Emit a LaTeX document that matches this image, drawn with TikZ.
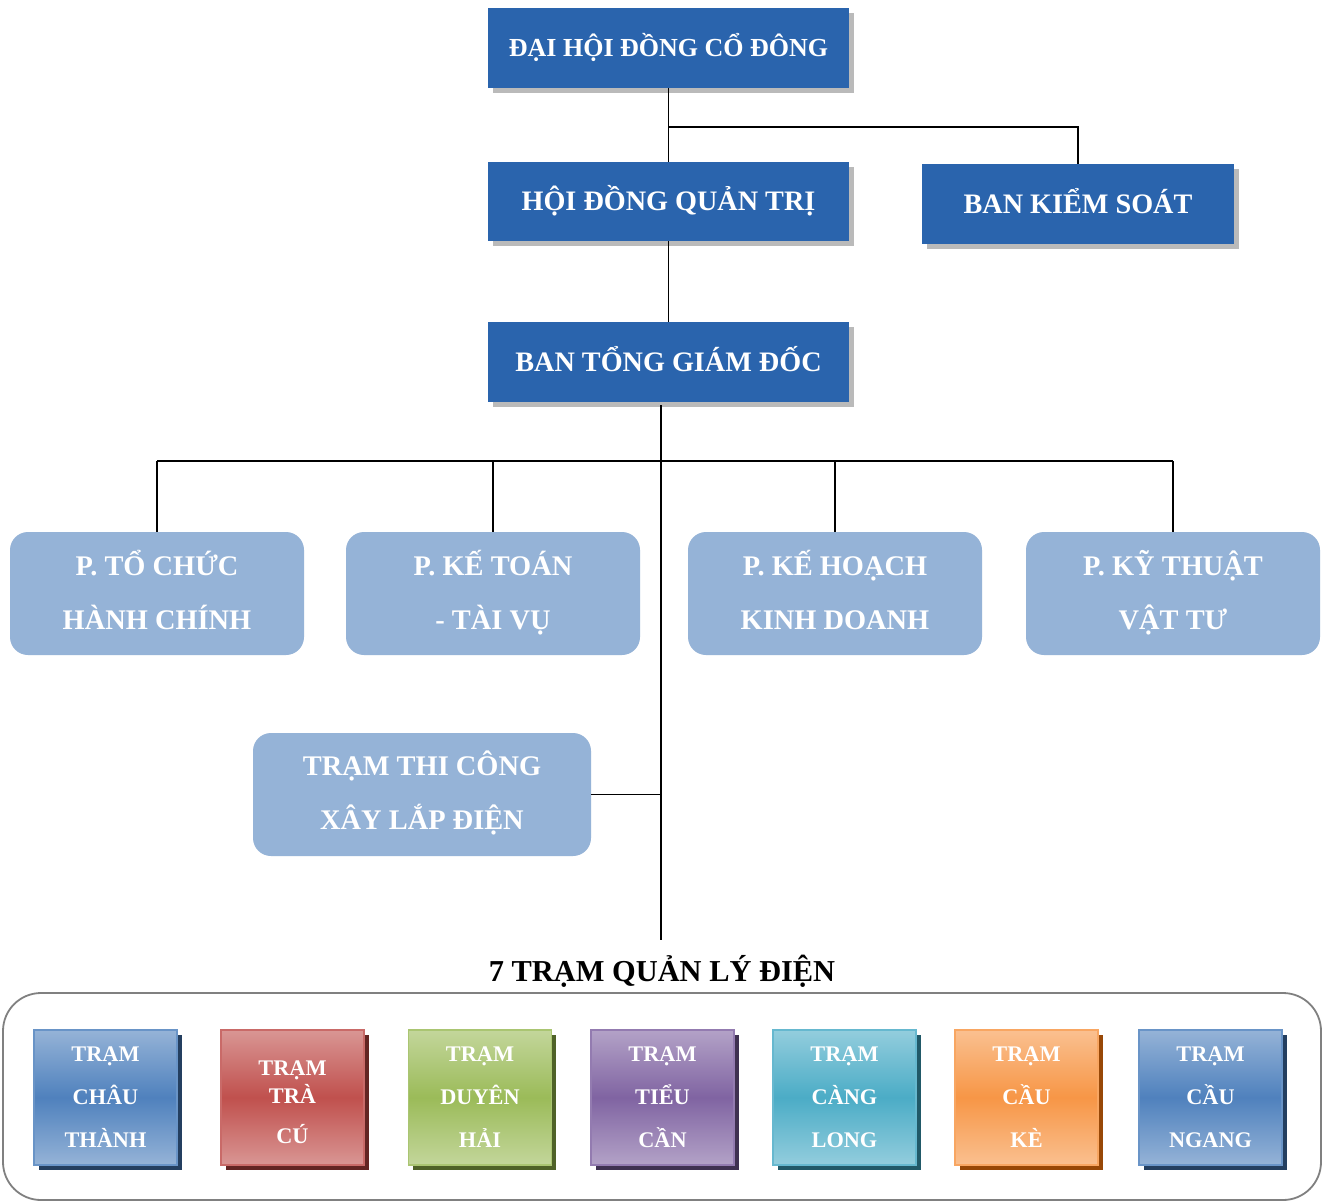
\documentclass[tikz,border=0pt]{standalone}
\usepackage{fontspec}
\setmainfont{Liberation Serif}
\usetikzlibrary{shadows}
\definecolor{hdblue}{HTML}{2A64AD}
\definecolor{deptblue}{HTML}{95B3D7}
\definecolor{bluemid}{HTML}{4F81BD}\definecolor{bluelight}{HTML}{95B3D7}\definecolor{blueshad}{HTML}{243F60}
\definecolor{redmid}{HTML}{C0504D}\definecolor{redlight}{HTML}{D99694}\definecolor{redshad}{HTML}{632523}
\definecolor{greenmid}{HTML}{9BBB59}\definecolor{greenlight}{HTML}{C3D69B}\definecolor{greenshad}{HTML}{4F6228}
\definecolor{purplemid}{HTML}{8064A2}\definecolor{purplelight}{HTML}{B3A2C7}\definecolor{purpleshad}{HTML}{3F3151}
\definecolor{tealmid}{HTML}{4BACC6}\definecolor{teallight}{HTML}{93CDDD}\definecolor{tealshad}{HTML}{215968}
\definecolor{orangemid}{HTML}{F79646}\definecolor{orangelight}{HTML}{FAC090}\definecolor{orangeshad}{HTML}{984807}
\begin{document}
\begin{tikzpicture}[x=1pt,y=-1pt,
  conn/.style={draw=black, line width=1.8pt},
  topbox/.style={fill=hdblue, text=white, inner sep=0pt, minimum height=80pt,
    font=\bfseries\fontsize{28.2}{30}\selectfont,
    execute at end node={\rule[-7pt]{0pt}{7pt}},
    drop shadow={shadow xshift=5pt, shadow yshift=-5pt, fill=black!27, opacity=1}},
  deptbox/.style={fill=deptblue, text=white, inner sep=0pt, rounded corners=18pt,
    minimum width=294pt, minimum height=123pt, align=center,
    font=\bfseries\fontsize{28.4}{54}\selectfont,
    execute at end node={\rule[-8pt]{0pt}{8pt}}},
  station/.style args={#1}{draw=#1mid!85!white, line width=1.6pt,
    top color=#1light, bottom color=#1light, middle color=#1mid,
    text=white, inner sep=0pt, minimum width=143pt, minimum height=135pt, align=center,
    font=\bfseries\fontsize{22.3}{43}\selectfont,
    execute at begin node={\rule{0pt}{19pt}},
    drop shadow={shadow xshift=4.5pt, shadow yshift=-4.5pt, fill=#1shad, opacity=1}},
  frame/.style={draw=black!50, line width=1.8pt, rounded corners=38pt, inner sep=0pt,
    minimum width=1318pt, minimum height=207pt}
]
\useasboundingbox (0,0) rectangle (1323,1202);
\fill[white] (0,0) rectangle (1323,1202);

% top boxes
\node[topbox, minimum width=361pt, font=\bfseries\fontsize{26}{30}\selectfont] (dh) at (668.5,48) {ĐẠI HỘI ĐỒNG CỔ ĐÔNG};
\node[topbox, minimum width=361pt, minimum height=79pt] (hd) at (668.5,201.5) {HỘI ĐỒNG QUẢN TRỊ};
\node[topbox, minimum width=312pt] (bks) at (1078,204) {BAN KIỂM SOÁT};
\node[topbox, minimum width=361pt] (tgd) at (668.5,362) {BAN TỔNG GIÁM ĐỐC};

\coordinate (jn) at (668.5,127);
\draw[conn] (dh.south) -- (hd.north);
\draw[conn] (jn) -| (bks.north);
\draw[conn] (hd.south) -- (tgd.north);

% departments
\node[deptbox] (d1) at (157,593.5) {P. TỔ CHỨC\\HÀNH CHÍNH};
\node[deptbox] (d2) at (493,593.5) {P. KẾ TOÁN\\- TÀI VỤ};
\node[deptbox] (d3) at (835,593.5) {P. KẾ HOẠCH\\KINH DOANH};
\node[deptbox] (d4) at (1173,593.5) {P. KỸ THUẬT\\VẬT TƯ};

\coordinate (spinetop) at (661,405);
\coordinate (spineend) at (661,940);
\coordinate (bus) at (661,461);
\draw[conn] (spinetop) -- (spineend);
\draw[conn] (d1.north |- bus) -- (d4.north |- bus);
\foreach \d in {d1,d2,d3,d4} \draw[conn] (\d.north) -- (\d.north |- bus);

\node[deptbox, minimum width=338pt] (tc) at (422,794.5) {TRẠM THI CÔNG\\XÂY LẮP ĐIỆN};
\draw[conn] (tc.east) -- (tc.east -| spineend);

% stations
\node[font=\bfseries\fontsize{30.4}{32}\selectfont] (lbl) at (662,971) {7 TRẠM QUẢN LÝ ĐIỆN};
\node[frame] (fr) at (662,1096.5) {};

\node[station=blue] (s1) at (105.5,1097.5) {TRẠM\\CHÂU\\THÀNH};
\node[station=red] (s2) at (292.5,1097.5) {\rule{0pt}{25pt}TRẠM\\[-15pt]TRÀ\\[-3pt]CÚ};
\node[station=green] (s3) at (480,1097.5) {TRẠM\\DUYÊN\\HẢI};
\node[station=purple] (s4) at (662.5,1097.5) {TRẠM\\TIỂU\\CẦN};
\node[station=teal] (s5) at (844.5,1097.5) {TRẠM\\CÀNG\\LONG};
\node[station=orange] (s6) at (1026.5,1097.5) {TRẠM\\CẦU\\KÈ};
\node[station=blue] (s7) at (1210.5,1097.5) {TRẠM\\CẦU\\NGANG};
\end{tikzpicture}
\end{document}
